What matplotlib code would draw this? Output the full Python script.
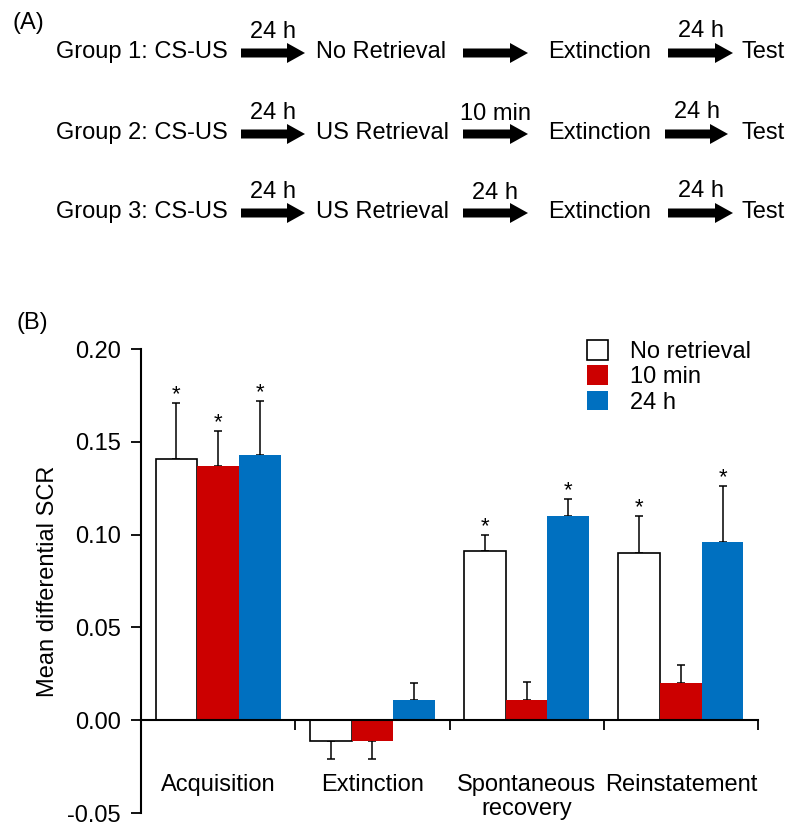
"""Retrieval-extinction protocol (A) and mean differential SCR per phase (B)."""
import numpy as np
import matplotlib.pyplot as plt
from matplotlib.patches import FancyArrow
from matplotlib.transforms import blended_transform_factory

plt.rcParams["font.family"] = ["Liberation Sans", "DejaVu Sans"]
plt.rcParams["axes.unicode_minus"] = False

# --- panel A: protocol ---
groups = ["Group 1: CS-US", "Group 2: CS-US", "Group 3: CS-US"]
retrieval = ["No Retrieval", "US Retrieval", "US Retrieval"]
delay_to_retrieval = ["24 h", "24 h", "24 h"]
delay_to_extinction = ["", "10 min", "24 h"]
delay_to_test = ["24 h", "24 h", "24 h"]

# --- panel B: mean differential SCR ---
phases = ["Acquisition", "Extinction", "Spontaneous\nrecovery", "Reinstatement"]
conditions = ["No retrieval", "10 min", "24 h"]
no_retrieval = [0.141, -0.011, 0.091, 0.090]
no_retrieval_err = [0.030, 0.010, 0.009, 0.020]
min_10 = [0.137, -0.011, 0.011, 0.020]
min_10_err = [0.019, 0.010, 0.0095, 0.010]
h_24 = [0.143, 0.011, 0.110, 0.096]
h_24_err = [0.029, 0.009, 0.009, 0.030]
no_retrieval_sig = [True, False, True, True]
min_10_sig = [True, False, False, False]
h_24_sig = [True, False, True, True]

FS = 17
fig = plt.figure(figsize=(8, 8.38), dpi=100)

# overlay in pixel coordinates for the protocol diagram
top = fig.add_axes([0, 0, 1, 1])
top.set_xlim(0, 800)
top.set_ylim(838, 0)
top.axis("off")


def arrow(x0, x1, y):
    top.add_patch(FancyArrow(x0, y, x1 - x0, 0, width=9, head_width=20,
                             head_length=18, length_includes_head=True,
                             color="black", lw=0))


top.text(12, 23, "(A)", fontsize=FS, va="center", ha="left")
top.text(16, 323, "(B)", fontsize=FS, va="center", ha="left")

row_y = [52, 133, 212]
arrow2_x = [(463, 528), (463, 528), (463, 528)]
arrow3_x = [(668, 733), (665, 728), (668, 733)]
for i, y in enumerate(row_y):
    top.text(56, y, groups[i], fontsize=FS, va="center")
    arrow(241, 305, y + 1)
    top.text(273, y - 20, delay_to_retrieval[i], fontsize=FS, ha="center", va="center")
    top.text(316, y, retrieval[i], fontsize=FS, va="center")
    arrow(*arrow2_x[i], y + 1)
    if delay_to_extinction[i]:
        top.text(sum(arrow2_x[i]) / 2, y - 19, delay_to_extinction[i],
                 fontsize=FS, ha="center", va="center")
    top.text(548, y, "Extinction", fontsize=FS, va="center")
    arrow(*arrow3_x[i], y + 1)
    top.text(sum(arrow3_x[i]) / 2 + 1, y - 21, delay_to_test[i],
             fontsize=FS, ha="center", va="center")
    top.text(742, y, "Test", fontsize=FS, va="center")

# --- bar chart ---
ax = fig.add_axes([141 / 800, 25 / 838, 617 / 800, 464 / 838])
x = np.arange(len(phases))
width = 0.27
series = [
    (no_retrieval, no_retrieval_err, no_retrieval_sig, "white", "black", 1.2),
    (min_10, min_10_err, min_10_sig, "#CC0000", "#CC0000", 0),
    (h_24, h_24_err, h_24_sig, "#0070C0", "#0070C0", 0),
]
for k, (vals, errs, sig, fc, ec, lw) in enumerate(series):
    vals = np.array(vals)
    errs = np.array(errs)
    pos = x + (k - 1) * width
    ax.bar(pos, vals, width=width, color=fc, edgecolor=ec, linewidth=lw,
           label=conditions[k], zorder=2)
    lower = np.where(vals < 0, errs, 0)
    upper = np.where(vals >= 0, errs, 0)
    ax.errorbar(pos, vals, yerr=[lower, upper], fmt="none", ecolor="black",
                elinewidth=1.1, capsize=3, capthick=1.1, zorder=1)
    for p, v, e, s in zip(pos, vals, errs, sig):
        if s:
            ax.annotate("*", (p, v + e), xytext=(0, 2), textcoords="offset points",
                        ha="center", va="baseline", fontsize=16)

ax.set_xlim(-0.5, 3.5)
ax.set_ylim(-0.05, 0.20)
ax.set_yticks([-0.05, 0.00, 0.05, 0.10, 0.15, 0.20])
ax.set_yticklabels(["-0.05", "0.00", "0.05", "0.10", "0.15", "0.20"])
ax.set_xticks([0.5, 1.5, 2.5, 3.5])
ax.set_xticklabels([])
ax.tick_params(axis="y", direction="out", length=7.2, width=1.3, pad=7.5, labelsize=FS)
ax.tick_params(axis="x", direction="out", length=7.2, width=1.3)
for side in ["top", "right"]:
    ax.spines[side].set_visible(False)
ax.spines["left"].set_linewidth(1.5)
ax.spines["bottom"].set_linewidth(1.5)
ax.spines["bottom"].set_position(("data", 0))
ax.spines["bottom"].set_zorder(3)

lab_tr = blended_transform_factory(ax.transData, ax.transAxes)
for i, name in enumerate(phases):
    ax.text(i, 0.084, name, transform=lab_tr, ha="center", va="top",
            fontsize=FS, linespacing=1.1)

fig.text(48 / 800, 1 - 581 / 838, "Mean differential SCR", rotation=90,
         ha="center", va="center", fontsize=FS)

ax.legend(loc="upper left", bbox_to_anchor=(587 / 800, 1 - 340 / 838),
          bbox_transform=fig.transFigure, frameon=False, fontsize=FS,
          handlelength=0.9, handleheight=0.9, handletextpad=0.9,
          labelspacing=0.1, borderpad=0, borderaxespad=0)

plt.savefig("out.png", dpi=100)
